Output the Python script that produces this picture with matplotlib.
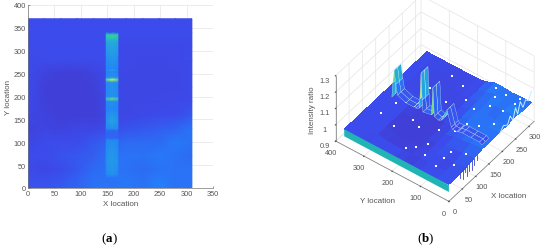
import numpy as np
import matplotlib
matplotlib.use('Agg')
import matplotlib.pyplot as plt
from matplotlib.colors import LinearSegmentedColormap, Normalize

plt.rcParams['font.family'] = ['Liberation Sans', 'DejaVu Sans']

# background of the intensity map
bg_x = [0, 31, 62, 93, 124, 155, 186, 217, 248, 279, 310]
bg_y = [0, 10, 40, 70, 100, 130, 160, 190, 220, 250, 280, 310, 340, 370]
bg_z = [
    [1.005, 1.005, 1.010, 1.020, 1.030, 1.030, 1.035, 1.030, 1.040, 1.030, 1.030],
    [1.005, 1.005, 1.010, 1.020, 1.030, 1.030, 1.035, 1.030, 1.040, 1.030, 1.030],
    [1.000, 0.995, 1.000, 1.010, 1.025, 1.030, 1.030, 1.025, 1.030, 1.030, 1.030],
    [1.000, 1.000, 1.005, 1.010, 1.015, 1.030, 1.030, 1.030, 1.035, 1.030, 1.025],
    [0.995, 1.000, 1.000, 1.000, 1.010, 1.020, 1.025, 1.025, 1.025, 1.035, 1.030],
    [0.990, 0.992, 0.990, 0.995, 0.995, 1.000, 1.005, 1.010, 1.015, 1.020, 1.030],
    [0.995, 0.990, 0.985, 0.985, 0.985, 0.995, 0.995, 0.998, 1.000, 1.000, 1.010],
    [1.000, 0.988, 0.985, 0.985, 0.986, 0.998, 0.995, 0.995, 0.997, 0.998, 1.000],
    [1.000, 0.988, 0.985, 0.985, 0.988, 1.000, 0.995, 0.995, 0.995, 0.995, 1.000],
    [1.000, 0.990, 0.985, 0.985, 0.990, 1.000, 0.995, 0.995, 0.995, 0.995, 1.000],
    [0.999, 1.000, 1.000, 1.000, 1.000, 1.000, 0.998, 0.995, 0.995, 0.998, 1.000],
    [1.000, 1.000, 1.000, 1.000, 1.000, 1.000, 0.998, 0.998, 0.998, 0.998, 1.000],
    [1.000, 1.000, 1.000, 1.000, 1.000, 1.000, 1.000, 1.000, 1.000, 1.000, 1.000],
    [1.000, 1.000, 1.000, 1.000, 1.000, 1.000, 1.000, 1.000, 1.000, 1.000, 1.000],
]

# vertical stripe near x = 160
stripe_x = [148, 159, 170]
stripe_y = [22, 30, 60, 90, 105, 110, 125, 130, 145, 165, 175, 190, 195, 200, 230,
            233, 237, 241, 244, 255, 258, 262, 290, 320, 326, 332, 337, 340]
stripe_side = [1.03, 1.05, 1.06, 1.05, 1.05, 1.02, 1.02, 1.05, 1.06, 1.05, 1.04, 1.05, 1.14, 1.05, 1.05,
               1.07, 1.18, 1.07, 1.05, 1.04, 1.05, 1.04, 1.06, 1.08, 1.11, 1.13, 1.11, 1.00]
stripe_mid = [1.03, 1.06, 1.07, 1.06, 1.05, 1.02, 1.02, 1.05, 1.08, 1.06, 1.05, 1.06, 1.19, 1.06, 1.06,
              1.10, 1.29, 1.10, 1.06, 1.05, 1.07, 1.05, 1.07, 1.09, 1.12, 1.15, 1.12, 1.00]

# heights of the stripe in panel (b)
wall_x = [147, 160, 173]
wall_z = [1.00, 1.01, 1.01, 1.01, 1.005, 1.00, 1.00, 1.01, 1.10, 1.02, 1.01, 1.02, 1.19, 1.02, 1.01,
          1.08, 1.24, 1.08, 1.02, 1.01, 1.02, 1.01, 1.01, 1.03, 1.09, 1.17, 1.09, 1.00]

# white flecks on the surface in panel (b)
fleck_x = [20, 35, 28, 60, 90, 100, 70, 130, 150, 175, 200, 210, 225, 240, 255, 265, 280, 295, 120, 165,
           60, 45, 85, 110, 135, 190, 205, 230, 245, 270, 290, 300, 305, 15, 40, 75]
fleck_y = [170, 150, 110, 130, 190, 220, 60, 100, 40, 60, 30, 110, 150, 80, 190, 240, 30, 110, 300, 90,
           250, 60, 20, 140, 280, 190, 260, 300, 40, 90, 70, 30, 160, 60, 20, 310]

# ragged y = 0 edge in panel (b)
fringe_x = [190, 205, 220, 230, 240, 250, 258, 268, 278, 288, 298, 310]
fringe_z = [1.02, 1.05, 1.03, 1.07, 1.03, 1.09, 1.04, 1.10, 1.05, 1.08, 1.06, 1.10]
drip_x = [40, 52, 60, 68, 75, 85, 95, 105]
drip_z = [0.98, 0.96, 0.99, 0.95, 0.97, 0.96, 0.98, 0.99]

ratio_ticks = [0.9, 1, 1.1, 1.2, 1.3]
ratio_labels = ['0.9', '1', '1.1', '1.2', '1.3']
map_x_ticks = [0, 50, 100, 150, 200, 250, 300, 350]
map_y_ticks = [0, 50, 100, 150, 200, 250, 300, 350, 400]
surf_x_ticks = [0, 50, 100, 150, 200, 250, 300]
surf_y_ticks = [0, 100, 200, 300, 400]

vmin, vmax = 0.97, 1.30
anchors = [(0.97, '#4632c4'), (0.985, '#4040d8'), (1.0, '#3c4beb'), (1.04, '#2480fa'),
           (1.08, '#24a5e1'), (1.13, '#28c8b4'), (1.2, '#82dc6e'), (1.3, '#faf050')]
cmap = LinearSegmentedColormap.from_list('ratio', [((v - vmin) / (vmax - vmin), c) for v, c in anchors])
norm = Normalize(vmin, vmax)

gray = '#555555'
fig = plt.figure(figsize=(5.5, 2.51), dpi=100)

# panel (a)
ax = fig.add_axes([28 / 550, 1 - 189 / 251, 185 / 550, 183 / 251])
ax.pcolormesh(bg_x, bg_y, np.array(bg_z), cmap=cmap, norm=norm, shading='gouraud', zorder=2)
stripe_grid = np.column_stack([stripe_side, stripe_mid, stripe_side])
ax.pcolormesh(stripe_x, stripe_y, stripe_grid, cmap=cmap, norm=norm, shading='gouraud', zorder=3)
ax.set_xlim(0, 350)
ax.set_ylim(0, 400)
ax.set_xticks(map_x_ticks)
ax.set_yticks(map_y_ticks)
ax.grid(True, color='#e4e4e4', linewidth=0.5, zorder=0)
ax.set_axisbelow(True)
ax.tick_params(labelsize=5.3, labelcolor=gray, color=gray, length=1.5, width=0.4, direction='in', pad=1.5)
for s in ['top', 'right']:
    ax.spines[s].set_visible(False)
for s in ['left', 'bottom']:
    ax.spines[s].set_color('#777777')
    ax.spines[s].set_linewidth(0.5)
ax.set_xlabel('X location', fontsize=5.8, color=gray, labelpad=2)
ax.set_ylabel('Y location', fontsize=5.8, color=gray, labelpad=1)

# panel (b)
ax3 = fig.add_axes([0.57, 0.091, 0.43, 1.0], projection='3d', proj_type='ortho', computed_zorder=False)
ax3.view_init(elev=45, azim=-143)
ax3.set_box_aspect((1, 1, 0.654), zoom=0.906)

bx, by = np.meshgrid(bg_x, bg_y)
bz = np.array(bg_z)
ax3.plot_surface(bx, by, bz, facecolors=cmap(norm(bz)), shade=False, linewidth=0,
                 antialiased=False, rstride=1, cstride=1, zorder=3)

# teal skirt along the x = 0 edge
skirt_y, skirt_z = np.meshgrid([0, 370], [0.957, 1.0])
ax3.plot_surface(np.zeros_like(skirt_y), skirt_y, skirt_z, color='#20b4b4', shade=False,
                 linewidth=0, zorder=4)

ax3.scatter(fleck_x, fleck_y, [1.04] * len(fleck_x), c='white', s=1.2, marker='s', linewidths=0,
            depthshade=False, zorder=5)

ax3.plot(fringe_x, [0] * len(fringe_x), fringe_z, color='#bfeeff', linewidth=0.7, zorder=5)
for x, z in zip(drip_x, drip_z):
    ax3.plot([x, x], [0, 0], [1.02, z], color='#3a44c8', linewidth=0.6, zorder=5)

wx, wy = np.meshgrid(wall_x, stripe_y)
wall = np.column_stack([wall_z, wall_z, wall_z])
ax3.plot_surface(wx, wy, wall, facecolors=cmap(norm(wall)), shade=False, linewidth=0.2, edgecolor='#e4f8ff',
                 rstride=1, cstride=1, zorder=6)

ax3.set_xlim(0, 320)
ax3.set_ylim(0, 400)
ax3.set_zlim(0.9, 1.3)
ax3.set_xticks(surf_x_ticks)
ax3.set_yticks(surf_y_ticks)
ax3.set_zticks(ratio_ticks)
ax3.set_zticklabels(ratio_labels)
for a in [ax3.xaxis, ax3.yaxis, ax3.zaxis]:
    a.set_pane_color((1, 1, 1, 0))
    a.line.set_color('#777777')
    a.line.set_linewidth(0.5)
    a._axinfo['grid']['color'] = '#e4e4e4'
    a._axinfo['grid']['linewidth'] = 0.5
    a._axinfo['tick']['inward_factor'] = 0.05
    a._axinfo['tick']['outward_factor'] = 0.0
ax3.tick_params(labelsize=5.3, labelcolor=gray, color=gray, width=0.4, pad=-3)

# mplot3d turns its axis labels along the axes, the reference keeps them flat
fig.text(509 / 550, 1 - 197 / 251, 'X location', fontsize=5.8, color=gray, ha='center', va='center')
fig.text(378 / 550, 1 - 202 / 251, 'Y location', fontsize=5.8, color=gray, ha='center', va='center')
fig.text(312 / 550, 1 - 110 / 251, 'Intensity ratio', fontsize=5.8, color=gray, rotation=90, ha='center', va='center')

# captions
for x, name in [(106, 'a'), (422, 'b')]:
    fig.text(x / 550, 1 - 239 / 251, '(', fontsize=9.3, family='Liberation Serif', ha='right', va='center')
    fig.text(x / 550, 1 - 239 / 251, name, fontsize=9.3, family='Liberation Serif', weight='bold', ha='left', va='center')
    fig.text((x + 7) / 550, 1 - 239 / 251, ')', fontsize=9.3, family='Liberation Serif', ha='left', va='center')

fig.savefig('out.png', dpi=100)
